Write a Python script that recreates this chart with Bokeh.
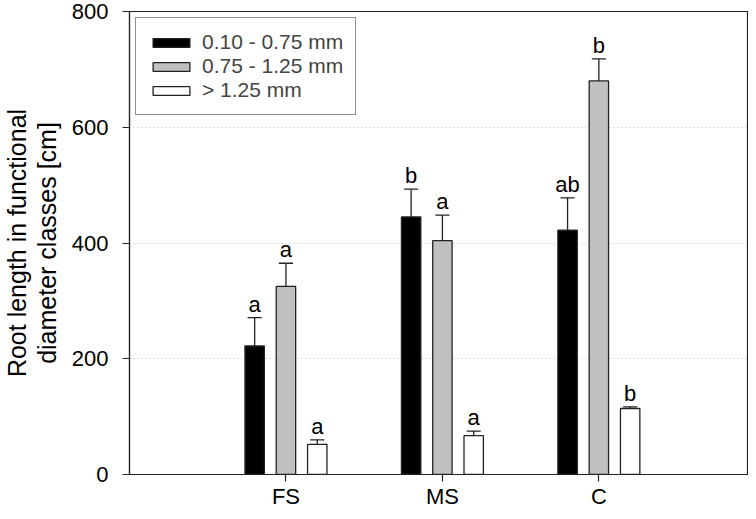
from bokeh.plotting import figure
from bokeh.models import FixedTicker, Legend, LegendItem, ColumnDataSource
from bokeh.core.properties import value
from bokeh.embed import file_html
from bokeh.resources import INLINE

categories = ["FS", "MS", "C"]
series_names = ["0.10 - 0.75 mm", "0.75 - 1.25 mm", "> 1.25 mm"]
fine_vals = [222, 445, 422]
fine_err = [49, 48, 56]
mid_vals = [325, 404, 680]
mid_err = [40, 44, 38]
coarse_vals = [52, 67, 114]
coarse_err = [8, 8, 3]
fine_letters = ["a", "b", "ab"]
mid_letters = ["a", "a", "b"]
coarse_letters = ["a", "a", "b"]
y_ticks = [0, 200, 400, 600, 800]

FONT = "Liberation Sans"
fills = ["#000000", "#c0c0c0", "#ffffff"]
offsets = [-0.2, 0.0, 0.2]
bar_w = 0.124
cap_half = 0.045

p = figure(width=748, height=511, output_backend="svg", toolbar_location=None,
           x_range=(0, 3.95), y_range=(0, 800),
           min_border_left=125, min_border_right=1, min_border_top=11, min_border_bottom=34)
p.background_fill_color = "white"
p.border_fill_color = "white"
p.outline_line_color = "#222222"
p.outline_line_width = 1.2

p.xgrid.visible = False
p.ygrid.grid_line_color = "#c0c0c0"
p.ygrid.grid_line_dash = "1 3"
p.ygrid.grid_line_width = 1

p.yaxis.ticker = FixedTicker(ticks=y_ticks)
p.xaxis.ticker = FixedTicker(ticks=[i + 1 for i in range(len(categories))])
p.xaxis.major_label_overrides = {i + 1: c for i, c in enumerate(categories)}
for ax in (p.xaxis, p.yaxis):
    ax.minor_tick_line_color = None
    ax.major_tick_in = 0
    ax.major_tick_out = 7
    ax.major_tick_line_color = "#222222"
    ax.major_tick_line_width = 1.2
    ax.axis_line_color = "#222222"
    ax.axis_line_width = 1.2
    ax.major_label_text_font = FONT
    ax.major_label_text_font_size = "22px"
    ax.major_label_text_color = "black"
p.xaxis.major_label_standoff = 2
p.yaxis.major_label_standoff = 14

p.yaxis.axis_label = "Root length in functional\ndiameter classes [cm]"
p.yaxis.axis_label_text_font = FONT
p.yaxis.axis_label_text_font_size = "25px"
p.yaxis.axis_label_text_font_style = "normal"
p.yaxis.axis_label_text_color = "black"
p.yaxis.axis_label_text_line_height = 1.05
p.yaxis.axis_label_standoff = 8

series = [(fine_vals, fine_err, fine_letters),
          (mid_vals, mid_err, mid_letters),
          (coarse_vals, coarse_err, coarse_letters)]

items = []
for k, (vals, errs, letters) in enumerate(series):
    xs = [i + 1 + offsets[k] for i in range(len(categories))]
    tops = [v + e for v, e in zip(vals, errs)]
    src = ColumnDataSource(dict(x=xs, top=vals, up=tops, letter=letters,
                                xl=[x - cap_half for x in xs], xr=[x + cap_half for x in xs]))
    r = p.vbar(x="x", top="top", bottom=0, width=bar_w, source=src,
               fill_color=fills[k], line_color="#222222", line_width=1.3)
    p.segment(x0="x", y0="top", x1="x", y1="up", source=src, line_color="#222222", line_width=1.3)
    p.segment(x0="xl", y0="up", x1="xr", y1="up", source=src, line_color="#222222", line_width=1.3)
    p.text(x="x", y="up", text="letter", source=src, text_align="center",
           text_baseline="bottom", y_offset=-1, text_font=value(FONT),
           text_font_size="22px", text_color="black")
    items.append(LegendItem(label=series_names[k], renderers=[r]))

legend = Legend(items=items, location="top_left", margin=6, padding=12,
                glyph_width=46, glyph_height=11, label_standoff=8, spacing=-5,
                label_height=18, label_text_line_height=1.0,
                label_text_font=FONT, label_text_font_size="21px",
                border_line_color="#222222", border_line_width=1.2,
                background_fill_color="white", background_fill_alpha=1.0)
p.add_layout(legend)

open("out.html", "w").write(file_html(p, INLINE))
